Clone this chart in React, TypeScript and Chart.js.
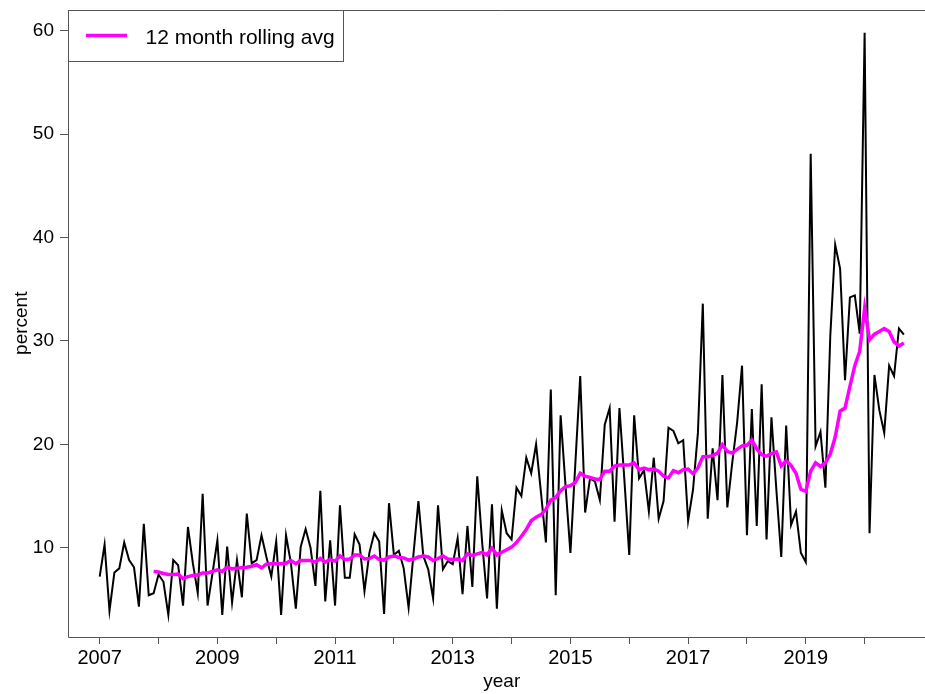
import React, { useEffect, useRef } from 'react';
import { Chart, registerables } from 'chart.js';

Chart.register(...registerables);

const START_YEAR = 2007;

// Monthly values, Jan 2007 .. Sep 2020 (percent)
const monthlyPercent = [
  7.2, 10.3, 3.9, 7.6, 8.0, 10.5, 8.8, 8.1, 4.3, 12.3, 5.4, 5.6,
  7.4, 6.7, 3.5, 8.8, 8.3, 4.4, 12.0, 8.5, 5.6, 15.2, 4.4, 7.5,
  10.7, 3.5, 10.1, 4.7, 8.8, 5.2, 13.3, 8.5, 8.8, 11.2, 9.1, 7.2,
  10.6, 3.5, 11.2, 8.5, 4.1, 10.1, 11.8, 10.0, 6.3, 15.5, 4.8, 10.7,
  4.4, 14.1, 7.1, 7.1, 11.3, 10.3, 5.8, 9.5, 11.4, 10.6, 3.6, 14.3,
  9.3, 9.7, 8.0, 4.2, 9.4, 14.5, 9.2, 7.9, 5.1, 14.1, 7.9, 8.7,
  8.4, 10.9, 5.5, 12.1, 6.2, 16.9, 10.5, 5.1, 14.2, 4.1, 13.6, 11.4,
  10.8, 15.8, 15.0, 18.7, 17.2, 20.0, 15.3, 10.5, 25.3, 5.4, 22.8, 16.0,
  9.5, 18.1, 26.6, 13.4, 16.7, 16.4, 14.6, 21.9, 23.5, 12.5, 23.5, 16.6,
  9.3, 22.8, 16.7, 17.5, 13.5, 18.7, 12.8, 14.5, 21.6, 21.3, 20.1, 20.4,
  12.6, 15.6, 21.1, 33.6, 12.8, 19.6, 14.6, 26.7, 13.9, 18.2, 22.1, 27.6,
  11.2, 23.4, 12.1, 25.8, 10.8, 22.6, 15.6, 9.1, 21.8, 12.2, 13.5, 9.5,
  8.6, 48.1, 19.8, 21.2, 15.8, 30.5, 39.3, 37.0, 26.2, 34.2, 34.4, 30.7,
  59.8, 11.4, 26.7, 23.3, 21.1, 27.6, 26.6, 31.2, 30.6,
];

// 12 month rolling average, Dec 2007 .. Sep 2020
const ROLLING_START_INDEX = 11;
const rollingAvg = [
  7.7, 7.65, 7.5, 7.4, 7.4, 7.45, 7.0, 7.2, 7.3, 7.35, 7.55, 7.55,
  7.7, 7.85, 7.7, 8.1, 7.95, 8.0, 8.05, 8.1, 8.2, 8.35, 8.05, 8.4,
  8.45, 8.45, 8.45, 8.5, 8.75, 8.45, 8.75, 8.75, 8.75, 8.6, 8.95, 8.6,
  8.85, 8.7, 9.2, 8.85, 8.9, 9.3, 9.3, 8.9, 8.95, 9.2, 8.85, 8.8,
  9.1, 9.2, 9.05, 9.0, 8.8, 8.9, 9.1, 9.2, 9.1, 8.75, 8.95, 9.2,
  8.9, 8.85, 8.9, 8.75, 9.4, 9.25, 9.4, 9.55, 9.3, 9.95, 9.3, 9.55,
  9.8, 10.05, 10.5, 11.1, 11.75, 12.6, 12.95, 13.2, 13.7, 14.6, 14.85, 15.5,
  15.9, 16.0, 16.3, 17.2, 16.9, 16.8, 16.65, 16.6, 17.4, 17.4, 17.9, 18.0,
  18.0, 18.0, 18.2, 17.55, 17.7, 17.55, 17.6, 17.4, 16.9, 16.75, 17.45, 17.25,
  17.55, 17.6, 17.15, 17.7, 18.8, 18.8, 18.9, 19.15, 19.95, 19.3, 19.15, 19.5,
  19.85, 19.9, 20.4, 19.55, 19.0, 18.85, 19.1, 19.25, 17.9, 18.4, 17.95, 17.2,
  15.65, 15.45, 17.4, 18.2, 17.85, 18.2, 19.05, 20.7, 23.2, 23.5, 25.6, 27.6,
  29.0, 33.15, 30.1, 30.65, 30.9, 31.2, 30.9, 29.9, 29.5, 29.8,
];

const yTicks = [10, 20, 30, 40, 50, 60];
const xTickYears = [2007, 2008, 2009, 2010, 2011, 2012, 2013, 2014, 2015, 2016, 2017, 2018, 2019, 2020];
const xLabeledYears = [2007, 2009, 2011, 2013, 2015, 2017, 2019];
const legendLabel = '12 month rolling avg';
const xTitle = 'year';
const yTitle = 'percent';

const FONT = '"Liberation Sans", Arial, Helvetica, sans-serif';
const AXIS_COLOR = '#555555';

const framePlugin = {
  id: 'frameAndLegend',
  afterDraw(chart: any) {
    const { ctx, chartArea: a } = chart;
    ctx.save();
    ctx.strokeStyle = AXIS_COLOR;
    ctx.lineWidth = 1;
    ctx.beginPath();
    ctx.moveTo(a.right, Math.round(a.top) + 0.5);
    ctx.lineTo(Math.round(a.left) + 0.5, Math.round(a.top) + 0.5);
    ctx.lineTo(Math.round(a.left) + 0.5, Math.round(a.bottom) + 0.5);
    ctx.lineTo(a.right, Math.round(a.bottom) + 0.5);
    ctx.stroke();

    // legend box
    const lx = Math.round(a.left) + 0.5;
    const ly = Math.round(a.top) + 0.5;
    const lw = 275;
    const lh = 51;
    ctx.fillStyle = '#ffffff';
    ctx.fillRect(lx, ly, lw, lh);
    ctx.strokeRect(lx, ly, lw, lh);
    ctx.strokeStyle = '#ff00ff';
    ctx.lineWidth = 3.5;
    ctx.beginPath();
    ctx.moveTo(lx + 17.5, ly + 25);
    ctx.lineTo(lx + 58.5, ly + 25);
    ctx.stroke();
    ctx.fillStyle = '#000000';
    ctx.font = `21px ${FONT}`;
    ctx.textBaseline = 'alphabetic';
    ctx.textAlign = 'left';
    ctx.fillText(legendLabel, lx + 77, ly + 33);
    ctx.restore();
  },
};

export default function App() {
  const canvasRef = useRef<HTMLCanvasElement | null>(null);

  useEffect(() => {
    document.body.style.margin = '0';
    const canvas = canvasRef.current;
    if (!canvas) return;

    const monthlyPoints = monthlyPercent.map((v, i) => ({ x: START_YEAR + i / 12, y: v }));
    const rollingPoints = rollingAvg.map((v, i) => ({ x: START_YEAR + (i + ROLLING_START_INDEX) / 12, y: v }));

    const chart = new Chart(canvas, {
      type: 'line',
      data: {
        datasets: [
          {
            label: legendLabel,
            data: rollingPoints,
            borderColor: '#ff00ff',
            borderWidth: 3.5,
            pointRadius: 0,
            tension: 0,
            order: 0,
          },
          {
            label: 'monthly',
            data: monthlyPoints,
            borderColor: '#000000',
            borderWidth: 2,
            pointRadius: 0,
            tension: 0,
            order: 1,
          },
        ],
      },
      options: {
        animation: false,
        responsive: false,
        devicePixelRatio: 1,
        layout: { padding: { left: 0, top: 9.5, right: 24, bottom: 0 } },
        plugins: {
          legend: { display: false },
          tooltip: { enabled: false },
        },
        scales: {
          x: {
            type: 'linear',
            min: 2006.453,
            max: 2021.213,
            afterBuildTicks: (scale: any) => {
              scale.ticks = xTickYears.map((v) => ({ value: v }));
            },
            afterFit: (scale: any) => {
              scale.height = 57;
              scale.paddingLeft = 0;
              scale.paddingRight = 0;
            },
            grid: {
              display: true,
              drawOnChartArea: false,
              drawTicks: true,
              tickLength: 7,
              tickColor: AXIS_COLOR,
              tickWidth: 1,
            },
            border: { display: false },
            ticks: {
              autoSkip: false,
              maxRotation: 0,
              minRotation: 0,
              padding: 2,
              color: '#000',
              font: { family: FONT, size: 20 },
              callback: (value: any) => (xLabeledYears.includes(Number(value)) ? String(value) : ''),
            },
            title: {
              display: true,
              text: xTitle,
              color: '#000',
              font: { family: FONT, size: 19 },
              padding: { top: 1, bottom: 1 },
            },
          },
          y: {
            type: 'linear',
            min: 1.36,
            max: 62.05,
            afterBuildTicks: (scale: any) => {
              scale.ticks = yTicks.map((v) => ({ value: v }));
            },
            afterFit: (scale: any) => {
              scale.width = 67.5;
              scale.paddingTop = 0;
              scale.paddingBottom = 0;
            },
            grid: {
              display: true,
              drawOnChartArea: false,
              drawTicks: true,
              tickLength: 7.5,
              tickColor: AXIS_COLOR,
              tickWidth: 1,
            },
            border: { display: false },
            ticks: {
              padding: 6,
              color: '#000',
              font: { family: FONT, size: 19 },
              callback: (value: any) => String(value),
            },
            title: {
              display: true,
              text: yTitle,
              color: '#000',
              font: { family: FONT, size: 19 },
              padding: { top: 10, bottom: 10 },
            },
          },
        },
      },
      plugins: [framePlugin],
    });

    return () => {
      chart.destroy();
    };
  }, []);

  return (
    <div style={{ position: 'fixed', left: 0, top: 0, width: 925, height: 694, overflow: 'hidden', background: '#fff' }}>
      <canvas ref={canvasRef} width={960} height={694} style={{ display: 'block' }} />
    </div>
  );
}
